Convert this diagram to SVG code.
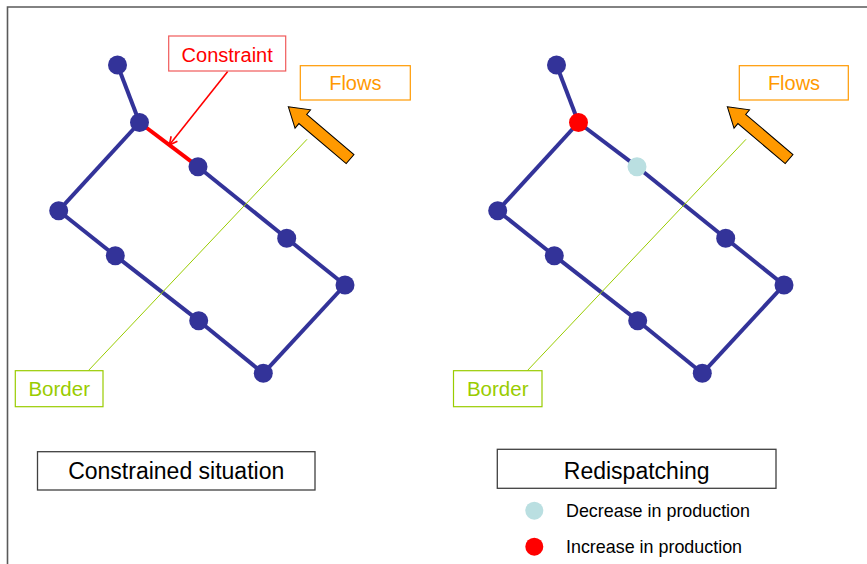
<svg xmlns="http://www.w3.org/2000/svg" width="867" height="564" viewBox="0 0 867 564">
  <defs>
    <style>
      .edge { stroke: #333399; stroke-width: 4; fill: none; }
      .edge-hot { stroke: #ff0000; stroke-width: 4; fill: none; }
      .bus { fill: #333399; }
      .bus-up { fill: #ff0000; }
      .bus-down { fill: #badfe1; }
      .lbl { font-family: "Liberation Sans", Arial, sans-serif; }
      .red-box { fill: #ffffff; stroke: #f05a5a; stroke-width: 1.2; }
      .orange-box { fill: #ffffff; stroke: #ff9900; stroke-width: 1.2; }
      .green-box { fill: #ffffff; stroke: #99cc00; stroke-width: 1.2; }
      .title-box { fill: #ffffff; stroke: #404040; stroke-width: 1.3; }
      .border-line { stroke: #99cc00; stroke-width: 1; }
      .flow-arrow { fill: #ff9900; stroke: #000000; stroke-width: 1; stroke-linejoin: miter; }
    </style>
    <marker id="redHead" markerWidth="10" markerHeight="10" refX="9" refY="5" orient="auto" markerUnits="userSpaceOnUse">
      <path d="M1,1 L9,5 L1,9" fill="none" stroke="#ff0000" stroke-width="1.6"/>
    </marker>
    <!-- flow arrow pointing along +x from its tip at the origin -->
    <polygon id="flowShape" class="flow-arrow" points="0,0 19,-12 19,-6 81,-6 81,6 19,6 19,12"/>
  </defs>

  <!-- frame -->
  <path d="M7.5,564 L7.5,7 L867,7" fill="none" stroke="#5a5a5a" stroke-width="1.6"/>

  <!-- ===== Left panel: constrained situation ===== -->
  <g id="left-connectors">
    <line class="edge" x1="117.5" y1="65" x2="139.5" y2="122.5"/>
    <line class="edge-hot" x1="139.5" y1="122.5" x2="198" y2="166.7"/>
    <line class="edge" x1="198" y1="166.7" x2="286.7" y2="238.3"/>
    <line class="edge" x1="286.7" y1="238.3" x2="345" y2="285"/>
    <line class="edge" x1="345" y1="285" x2="263.3" y2="373.3"/>
    <line class="edge" x1="263.3" y1="373.3" x2="198.7" y2="320.7"/>
    <line class="edge" x1="198.7" y1="320.7" x2="115.3" y2="255.7"/>
    <line class="edge" x1="115.3" y1="255.7" x2="58.7" y2="210.7"/>
    <line class="edge" x1="58.7" y1="210.7" x2="139.5" y2="122.5"/>
    <line class="border-line" x1="307" y1="139.3" x2="88.3" y2="370.7"/>
    <line x1="227.7" y1="71.5" x2="169.3" y2="145" stroke="#ff0000" stroke-width="1.6" marker-end="url(#redHead)"/>
  </g>
  <g id="L-bus-a"><circle class="bus" cx="117.5" cy="65" r="9.5"/></g>
  <g id="L-bus-b"><circle class="bus" cx="139.5" cy="122.5" r="9.5"/></g>
  <g id="L-bus-c"><circle class="bus" cx="198" cy="166.7" r="9.5"/></g>
  <g id="L-bus-d"><circle class="bus" cx="58.7" cy="210.7" r="9.5"/></g>
  <g id="L-bus-e"><circle class="bus" cx="115.3" cy="255.7" r="9.5"/></g>
  <g id="L-bus-f"><circle class="bus" cx="286.7" cy="238.3" r="9.5"/></g>
  <g id="L-bus-g"><circle class="bus" cx="345" cy="285" r="9.5"/></g>
  <g id="L-bus-h"><circle class="bus" cx="198.7" cy="320.7" r="9.5"/></g>
  <g id="L-bus-i"><circle class="bus" cx="263.3" cy="373.3" r="9.5"/></g>

  <g id="L-constraint">
    <rect class="red-box" x="168.7" y="36" width="117" height="35"/>
    <text class="lbl" x="227.2" y="61.5" font-size="20" fill="#ff0000" text-anchor="middle">Constraint</text>
  </g>
  <g id="L-flows">
    <rect class="orange-box" x="300.3" y="65.7" width="110" height="34.3"/>
    <text class="lbl" x="355.3" y="90" font-size="20" fill="#ff9900" text-anchor="middle">Flows</text>
    <use href="#flowShape" transform="translate(288.3,106.7) rotate(40.3)"/>
  </g>
  <g id="L-border">
    <rect class="green-box" x="15.3" y="370.7" width="87.7" height="36"/>
    <text class="lbl" x="59.2" y="396" font-size="20.5" fill="#99cc00" text-anchor="middle">Border</text>
  </g>
  <g id="L-title">
    <rect class="title-box" x="37.5" y="451.7" width="277.5" height="38.3"/>
    <text class="lbl" x="176.2" y="479.3" font-size="23" fill="#000000" text-anchor="middle">Constrained situation</text>
  </g>

  <!-- ===== Right panel: redispatching ===== -->
  <g id="right-connectors" transform="translate(439,0)">
    <line class="edge" x1="117.5" y1="65" x2="139.5" y2="122.5"/>
    <line class="edge" x1="139.5" y1="122.5" x2="198" y2="166.7"/>
    <line class="edge" x1="198" y1="166.7" x2="286.7" y2="238.3"/>
    <line class="edge" x1="286.7" y1="238.3" x2="345" y2="285"/>
    <line class="edge" x1="345" y1="285" x2="263.3" y2="373.3"/>
    <line class="edge" x1="263.3" y1="373.3" x2="198.7" y2="320.7"/>
    <line class="edge" x1="198.7" y1="320.7" x2="115.3" y2="255.7"/>
    <line class="edge" x1="115.3" y1="255.7" x2="58.7" y2="210.7"/>
    <line class="edge" x1="58.7" y1="210.7" x2="139.5" y2="122.5"/>
    <line class="border-line" x1="307" y1="139.3" x2="88.3" y2="370.7"/>
  </g>
  <g id="R-bus-a"><circle class="bus" cx="556.5" cy="65" r="9.5"/></g>
  <g id="R-bus-b"><circle class="bus-up" cx="578.5" cy="122.5" r="9.5"/></g>
  <g id="R-bus-c"><circle class="bus-down" cx="637" cy="166.7" r="9.5"/></g>
  <g id="R-bus-d"><circle class="bus" cx="497.7" cy="210.7" r="9.5"/></g>
  <g id="R-bus-e"><circle class="bus" cx="554.3" cy="255.7" r="9.5"/></g>
  <g id="R-bus-f"><circle class="bus" cx="725.7" cy="238.3" r="9.5"/></g>
  <g id="R-bus-g"><circle class="bus" cx="784" cy="285" r="9.5"/></g>
  <g id="R-bus-h"><circle class="bus" cx="637.7" cy="320.7" r="9.5"/></g>
  <g id="R-bus-i"><circle class="bus" cx="702.3" cy="373.3" r="9.5"/></g>

  <g id="R-flows">
    <rect class="orange-box" x="739.3" y="65.7" width="109" height="34.3"/>
    <text class="lbl" x="794" y="90" font-size="20" fill="#ff9900" text-anchor="middle">Flows</text>
    <use href="#flowShape" transform="translate(727.3,106.7) rotate(40.3)"/>
  </g>
  <g id="R-border">
    <rect class="green-box" x="453.5" y="370.7" width="88.5" height="36"/>
    <text class="lbl" x="497.7" y="396" font-size="20.5" fill="#99cc00" text-anchor="middle">Border</text>
  </g>
  <g id="R-title">
    <rect class="title-box" x="497.3" y="449.3" width="278.7" height="39"/>
    <text class="lbl" x="636.7" y="479.3" font-size="23" fill="#000000" text-anchor="middle">Redispatching</text>
  </g>

  <!-- legend -->
  <g id="legend-decrease">
    <circle class="bus-down" cx="534.3" cy="510.7" r="9"/>
    <text class="lbl" x="566" y="516.7" font-size="17.9" fill="#000000">Decrease in production</text>
  </g>
  <g id="legend-increase">
    <circle class="bus-up" cx="534.3" cy="546.7" r="9"/>
    <text class="lbl" x="566" y="553.3" font-size="17.9" fill="#000000">Increase in production</text>
  </g>
</svg>
